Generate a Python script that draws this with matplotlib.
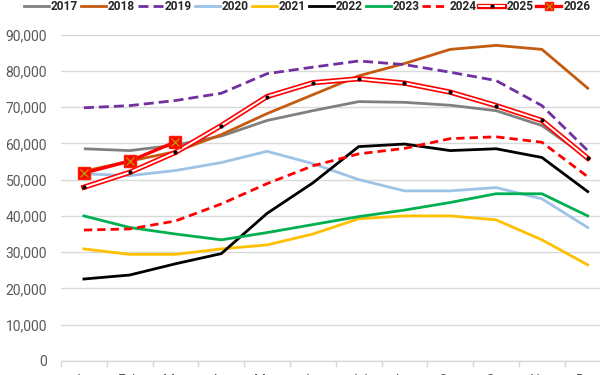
import matplotlib
matplotlib.use("Agg")
import matplotlib.pyplot as plt
from matplotlib.lines import Line2D
from matplotlib.ticker import FuncFormatter, MultipleLocator, FixedLocator

months = ["Jan", "Feb", "Mar", "Apr", "May", "Jun", "Jul", "Aug", "Sep", "Oct", "Nov", "Dec"]

y2017 = [58500, 58000, 59500, 62000, 66300, 69000, 71500, 71300, 70500, 69000, 64900, 56000]
y2018 = [52300, 55100, 57700, 62400, 68200, 73400, 78600, 82000, 85900, 87000, 85900, 75200]
y2019 = [69800, 70400, 71800, 73800, 79200, 81000, 82700, 81700, 79600, 77300, 70400, 58000]
y2020 = [51600, 51100, 52500, 54700, 57800, 54400, 50000, 46900, 46900, 47800, 44700, 36800]
y2021 = [30900, 29400, 29400, 30900, 32000, 35000, 39200, 40000, 40000, 38900, 33400, 26500]
y2022 = [22600, 23700, 26800, 29600, 40700, 49100, 59100, 59800, 58000, 58500, 56100, 46700]
y2023 = [40000, 36800, 35000, 33400, 35400, 37600, 39800, 41600, 43700, 46100, 46100, 40000]
y2024 = [36100, 36400, 38600, 43300, 48900, 53800, 57100, 58600, 61300, 61800, 60300, 50800]
y2025 = [47900, 52000, 57500, 64900, 72900, 76700, 77800, 76600, 74100, 70400, 66300, 55900]
y2026 = [51800, 55100, 60400]

x = list(range(12))

fig = plt.figure(figsize=(6, 3.75), dpi=100)
L = 61.0 / 600
W = (12 * 45.8) / 600
B = 1 - 361.0 / 375
T = 1 - 34.5 / 375
ax = fig.add_axes([L, B, W, T - B])

lw = 2.0
ax.plot(x, y2017, color="#808080", lw=lw, label="2017", solid_capstyle="butt")
ax.plot(x, y2018, color="#C55A11", lw=lw, label="2018")
ax.plot(x, y2019, color="#7030A0", lw=lw, ls=(0, (3.6, 1.8)), label="2019")
ax.plot(x, y2020, color="#9DC3E6", lw=lw, label="2020")
ax.plot(x, y2021, color="#FFC000", lw=lw, label="2021")
ax.plot(x, y2022, color="#000000", lw=lw, label="2022")
ax.plot(x, y2023, color="#00B050", lw=lw, label="2023")
ax.plot(x, y2024, color="#FF0000", lw=lw, ls=(0, (3.0, 1.8)), label="2024")
ax.plot(x, y2025, color="#FF0000", lw=3.8, solid_joinstyle="miter")
ax.plot(x, y2025, color="white", lw=1.4, marker="o", ms=2.0, mfc="black", mec="black")
ax.plot(range(len(y2026)), y2026, color="#FF0000", lw=2.4, marker="s", ms=9,
        mfc="#FF0000", mec="#FF2000")
ax.plot(range(len(y2026)), y2026, ls="none", marker="x", ms=6, mec="#C09000", mew=1.0)

ax.set_xlim(-0.5, 11.5)
ax.set_ylim(0, 90000)
ax.yaxis.set_major_locator(MultipleLocator(10000))
ax.yaxis.set_major_formatter(FuncFormatter(lambda v, p: f"{int(v):,}"))
ax.grid(axis="y", color="#D9D9D9", lw=1.0)
ax.set_axisbelow(True)
for s in ["left", "right", "top"]:
    ax.spines[s].set_visible(False)
ax.spines["bottom"].set_color("#D9D9D9")
ax.spines["bottom"].set_linewidth(1.0)

ax.set_xticks(x)
ax.set_xticklabels(months)
ax.xaxis.set_minor_locator(FixedLocator([i - 0.5 for i in range(13)]))
ax.tick_params(axis="x", which="major", length=0, pad=9.5, labelsize=10, labelcolor="#595959")
ax.tick_params(axis="x", which="minor", length=4, color="#D9D9D9", width=1.0)
ax.tick_params(axis="y", length=0, pad=10, labelsize=10, labelcolor="#595959")
for lab in ax.get_xticklabels() + ax.get_yticklabels():
    lab.set_fontfamily("Roboto")

h = [
    Line2D([], [], color="#808080", lw=lw),
    Line2D([], [], color="#C55A11", lw=lw),
    Line2D([], [], color="#7030A0", lw=lw, ls=(0, (3.6, 1.8))),
    Line2D([], [], color="#9DC3E6", lw=lw),
    Line2D([], [], color="#FFC000", lw=lw),
    Line2D([], [], color="#000000", lw=lw),
    Line2D([], [], color="#00B050", lw=lw),
    Line2D([], [], color="#FF0000", lw=lw, ls=(0, (3.0, 1.8))),
    (Line2D([], [], color="#FF0000", lw=3.8),
     Line2D([], [], color="white", lw=1.4, marker="o", ms=2.0, mfc="black", mec="black", markevery=[1])),
    (Line2D([], [], color="#FF0000", lw=2.4, marker="s", ms=6, mfc="#FF0000", mec="#FF2000", markevery=[1]),
     Line2D([], [], ls="none", marker="x", ms=4, mec="#C09000", mew=1.0)),
]
labels = ["2017", "2018", "2019", "2020", "2021", "2022", "2023", "2024", "2025", "2026"]
leg = fig.legend(h, labels, loc="center", bbox_to_anchor=(307 / 600, 1 - 6.5 / 375), ncol=10,
                 frameon=False, handlelength=2.1, handletextpad=0.15, columnspacing=0.25,
                 prop={"family": "Roboto", "weight": "bold", "size": 8.6}, borderaxespad=0,
                 borderpad=0)
for t in leg.get_texts():
    t.set_color("#262626")

fig.savefig("out.png", dpi=100)
